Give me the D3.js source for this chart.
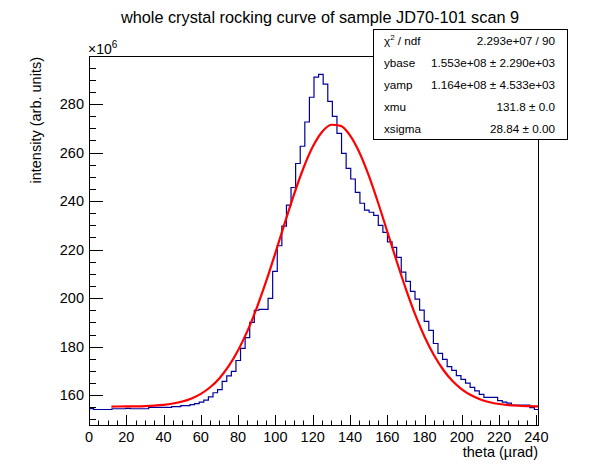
<!DOCTYPE html>
<html><head><meta charset="utf-8">
<script src="https://cdn.jsdelivr.net/npm/d3@7/dist/d3.min.js"></script>
<style>body{margin:0;background:#fff}svg{display:block}text{font-family:"Liberation Sans",Arial,Helvetica,sans-serif}</style>
</head><body>
<script>
// ---- data (x in µrad, y in units of 1e6) ----
const xMin = 0, xMax = 241.4;
const counts = [154.5,154.1,154.1,154.1,154.1,154.4,154.4,154.4,154.6,154.4,
154.4,154.4,154.4,155.0,155.0,155.0,155.0,155.0,155.3,155.3,
155.7,155.7,156.1,156.5,157.1,158.0,159.3,161.0,162.3,165.7,
168.0,169.8,174.3,179.3,183.7,190.0,195.0,195.4,195.4,199.9,
211.0,221.6,229.7,238.3,245.6,255.5,262.6,272.6,282.8,291.1,
292.2,288.2,281.1,274.9,267.9,259.7,253.5,249.1,243.6,239.1,
236.3,235.4,234.1,230.0,227.1,223.2,220.9,216.8,210.7,206.9,
202.8,199.6,195.1,190.4,186.7,181.3,177.2,174.8,171.8,170.2,
168.1,166.5,165.0,163.2,161.8,160.3,159.1,159.1,159.1,157.8,
157.1,156.7,155.9,155.9,155.9,155.9,154.9,154.1];
const fitX = [12,15,20,25,30,35,40,45,50,55,60,65,70,75,80,85,90,95,100,105,110,115,120,125,130,
135,140,145,150,155,160,165,170,175,180,185,190,195,200,205,210,215,220,225,230,235,240,241];
const fitY = [155.32,155.33,155.36,155.42,155.53,155.72,156.03,156.56,157.38,158.66,160.55,163.26,
167.02,172.04,178.50,186.49,196.03,206.88,218.67,230.89,242.77,253.53,262.35,268.51,271.47,
270.99,267.09,260.12,250.68,239.53,227.47,215.30,203.72,193.21,184.10,176.53,170.49,165.85,
162.41,159.94,158.25,157.11,156.38,155.93,155.65,155.49,155.40,155.39];
const xTicks = [0,20,40,60,80,100,120,140,160,180,200,220,240];
const yTicks = [160,180,200,220,240,260,280];
const statLabels = ["χ2 / ndf","ybase","yamp","xmu","xsigma"];
const statValues = ["2.293e+07 / 90","1.553e+08 ± 2.290e+03","1.164e+08 ± 4.533e+03","131.8 ± 0.0","28.84 ± 0.00"];
const title = "whole crystal rocking curve of sample JD70-101 scan 9";
const xTitle = "theta (µrad)";
const yTitle = "intensity (arb. units)";

const W = 598, H = 474;
const L = 89, R = 539, T = 56, B = 426;
const svg = d3.select("body").append("svg").attr("width", W).attr("height", H);
svg.append("rect").attr("width", W).attr("height", H).attr("fill", "#fff");

const x = d3.scaleLinear().domain([xMin, xMax]).range([L, R]);
const y = d3.scaleLinear().domain([147.3, 299.8]).range([B, T]);
const binWidth = (xMax - xMin) / counts.length;

// histogram
const pts = counts.map((c, i) => [xMin + i * binWidth, c]);
pts.push([xMax, counts[counts.length - 1]]);
svg.append("clipPath").attr("id", "fr").append("rect")
  .attr("x", L).attr("y", T).attr("width", R - L).attr("height", B - T);
svg.append("path").datum(pts)
  .attr("d", d3.line().x(d => x(d[0])).y(d => y(d[1])).curve(d3.curveStepAfter))
  .attr("fill", "none").attr("stroke", "#000099").attr("stroke-width", 1.2)
  .attr("clip-path", "url(#fr)");

// fit curve
svg.append("path").datum(fitX.map((v, i) => [v, fitY[i]]))
  .attr("d", d3.line().x(d => x(d[0])).y(d => y(d[1])).curve(d3.curveMonotoneX))
  .attr("fill", "none").attr("stroke", "#ff0000").attr("stroke-width", 2.2);

// frame
svg.append("rect").attr("x", L + 0.5).attr("y", T + 0.5).attr("width", R - L - 1).attr("height", B - T - 1)
  .attr("fill", "none").attr("stroke", "#000").attr("stroke-width", 1);

// x axis ticks (inward)
const gx = svg.append("g");
d3.range(0, 241, 5).forEach(v => {
  const major = v % 20 === 0;
  gx.append("line").attr("x1", Math.round(x(v)) + 0.5).attr("x2", Math.round(x(v)) + 0.5)
    .attr("y1", B).attr("y2", B - (major ? 11 : 5.5)).attr("stroke", "#000");
});
gx.selectAll("text.xt").data(xTicks).enter().append("text")
  .attr("x", d => x(d)).attr("y", 442).attr("text-anchor", "middle")
  .attr("font-size", 14.5).text(d => d);

// y axis ticks
const gy = svg.append("g");
d3.range(150, 300, 5).forEach(v => {
  const major = v % 20 === 0;
  gy.append("line").attr("y1", Math.round(y(v)) + 0.5).attr("y2", Math.round(y(v)) + 0.5)
    .attr("x1", L).attr("x2", L + (major ? 14 : 7)).attr("stroke", "#000");
});
gy.selectAll("text.yt").data(yTicks).enter().append("text")
  .attr("x", 84).attr("y", d => y(d) + 5).attr("text-anchor", "end")
  .attr("font-size", 14.5).text(d => d);

// exponent
const ex = svg.append("text").attr("x", 88).attr("y", 54).attr("font-size", 14);
ex.append("tspan").text("×10");
ex.append("tspan").attr("dy", -6).attr("font-size", 10).text("6");

// titles
svg.append("text").attr("x", 320).attr("y", 23).attr("text-anchor", "middle")
  .attr("font-size", 16.3).text(title);
svg.append("text").attr("x", 538).attr("y", 457).attr("text-anchor", "end")
  .attr("font-size", 14.5).text(xTitle);
svg.append("text").attr("transform", "translate(41,57) rotate(-90)").attr("text-anchor", "end")
  .attr("font-size", 14.5).text(yTitle);

// stats box
const bx = 373, by = 29, bw = 194, bh = 110;
svg.append("rect").attr("x", bx + 0.5).attr("y", by + 0.5).attr("width", bw).attr("height", bh)
  .attr("fill", "#fff").attr("stroke", "#000");
const rowH = bh / statLabels.length;
statLabels.forEach((lab, i) => {
  const ty = by + rowH * (i + 0.5) + 5;
  const t = svg.append("text").attr("x", bx + 11).attr("y", ty).attr("font-size", 11.7);
  if (i === 0) {
    t.append("tspan").text("χ");
    t.append("tspan").attr("dy", -5).attr("font-size", 8).text("2");
    t.append("tspan").attr("dy", 5).text(" / ndf");
  } else t.text(lab);
  svg.append("text").attr("x", bx + bw - 12).attr("y", ty).attr("text-anchor", "end")
    .attr("font-size", 11.7).text(statValues[i]);
});
</script>
</body></html>
